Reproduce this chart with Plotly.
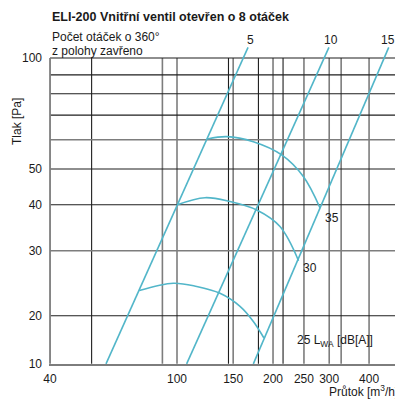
import math

import plotly.graph_objects as go

# Axis ticks
X_TICKS = [40, 100, 150, 200, 250, 300, 400]
Y_TICKS = [14.81, 20, 30, 40, 50, 100]
Y_TICK_TEXT = ["10", "20", "30", "40", "50", "100"]

# Grid lines, two tones in the original drawing
X_GRID_DARK = [54, 145, 180, 215]
X_GRID_LIGHT = [90, 100, 150, 200, 250, 300, 327, 400]
Y_GRID_DARK = [20, 40, 50, 70, 80, 90, 100]
Y_GRID_LIGHT = [30, 60]

# Valve turn lines (number of 360° turns from closed)
TURN_LABELS = ["5", "10", "15"]
TURN_Q = [[59.9, 167.0], [107.2, 299.4], [173.5, 461.0]]
TURN_P = [[14.8, 106.9], [14.8, 106.9], [14.8, 106.9]]

# Sound power curves L_WA [dB(A)]
NOISE_LABELS = ["35", "30", "25"]
NOISE_Q = [
    [124.6, 143.2, 173.5, 212.9, 248.9, 280.8],
    [100.2, 122.4, 146.6, 177.8, 210.3, 240.4],
    [76.2, 97.4, 115.3, 136.4, 157.6, 173.5, 187.3],
]
NOISE_P = [
    [60.3, 61.2, 59.3, 54.6, 47.7, 39.2],
    [40.0, 41.8, 40.8, 38.7, 34.9, 28.2],
    [23.4, 24.5, 24.0, 23.0, 21.2, 19.3, 17.4],
]

Q_MIN, Q_MAX = 39.7, 511
P_MIN, P_TOP, P_MAX = 14.81, 100, 107.8

BLUE = "#52B6C9"
DARK = "#1e1e1e"
LIGHT = "#7d7d7d"
INK = "#1a1a1a"
FONT = "Liberation Sans, Arial, sans-serif"

# the page body keeps its default 8px margin, so the figure is 8px smaller
PAGE_OFFSET = 8
W, H = 403 - PAGE_OFFSET, 402 - PAGE_OFFSET
ML, MR, MT, MB = 49 - PAGE_OFFSET, 0, 46 - PAGE_OFFSET, 38


def px(x, y):
    """Pixel position in the page to paper coordinates."""
    x, y = x - PAGE_OFFSET, y - PAGE_OFFSET
    return (x - ML) / (W - ML - MR), (H - MB - y) / (H - MT - MB)


fig = go.Figure()

for vals, color, width in ((X_GRID_LIGHT, LIGHT, 1.6), (X_GRID_DARK, DARK, 1.1)):
    for v in vals:
        fig.add_scatter(x=[v, v], y=[P_MIN, P_TOP], mode="lines",
                        line=dict(color=color, width=width), hoverinfo="skip")
for vals, color, width in ((Y_GRID_LIGHT, LIGHT, 1.6), (Y_GRID_DARK, DARK, 1.1)):
    for v in vals:
        fig.add_scatter(x=[40, Q_MAX], y=[v, v], mode="lines",
                        line=dict(color=color, width=width), hoverinfo="skip")

# left axis line, stops at 100
fig.add_scatter(x=[40, 40], y=[P_MIN, P_TOP], mode="lines",
                line=dict(color=LIGHT, width=1.8), hoverinfo="skip")

for q, p in zip(TURN_Q, TURN_P):
    fig.add_scatter(x=q, y=p, mode="lines", line=dict(color=BLUE, width=1.6),
                    hoverinfo="skip")
for q, p in zip(NOISE_Q, NOISE_P):
    fig.add_scatter(x=q, y=p, mode="lines", line=dict(color=BLUE, width=1.6, shape="spline"),
                    hoverinfo="skip")

texts = [
    ("<b>ELI-200 Vnitřní ventil otevřen o 8 otáček</b>", 50, 17, "left", 0, 12.5),
    ("Počet otáček o 360°", 50, 37, "left", 0, 12),
    ("z polohy zavřeno", 50, 51, "left", 0, 12),
    (TURN_LABELS[0], 250, 40, "center", 0, 12),
    (TURN_LABELS[1], 331, 40, "center", 0, 12),
    (TURN_LABELS[2], 388, 40, "center", 0, 12),
    (NOISE_LABELS[0], 332, 218, "center", 0, 12),
    (NOISE_LABELS[1], 310, 268, "center", 0, 12),
    (NOISE_LABELS[2] + " L<sub>WA</sub> [dB[A]]", 295, 341, "left", 0, 12),
    ("Průtok [m<sup>3</sup>/h]", 400, 391, "right", 0, 12),
    ("Tlak [Pa]", 17, 122, "center", -90, 12),
]
for text, x, y, anchor, angle, size in texts:
    ax, ay = px(x, y)
    fig.add_annotation(text=text, x=ax, y=ay, xref="paper", yref="paper",
                       xanchor=anchor, yanchor="middle", showarrow=False,
                       textangle=angle, font=dict(size=size, color=INK, family=FONT))

fig.update_layout(
    width=W,
    height=H,
    margin=dict(l=ML, r=MR, t=MT, b=MB),
    paper_bgcolor="white",
    plot_bgcolor="white",
    showlegend=False,
    font=dict(family=FONT, size=12, color=INK),
    xaxis=dict(
        type="log",
        range=[math.log10(Q_MIN), math.log10(Q_MAX)],
        tickvals=X_TICKS,
        ticktext=[str(v) for v in X_TICKS],
        showgrid=False,
        zeroline=False,
        showline=True,
        linecolor=LIGHT,
        linewidth=1.8,
        ticks="",
        ticklabelstandoff=3,
    ),
    yaxis=dict(
        type="log",
        range=[math.log10(P_MIN) - 0.0005, math.log10(P_MAX)],
        tickvals=Y_TICKS,
        ticktext=Y_TICK_TEXT,
        showgrid=False,
        zeroline=False,
        showline=False,
        ticks="",
        ticklabelstandoff=6,
    ),
)

fig.write_html("out.html")
